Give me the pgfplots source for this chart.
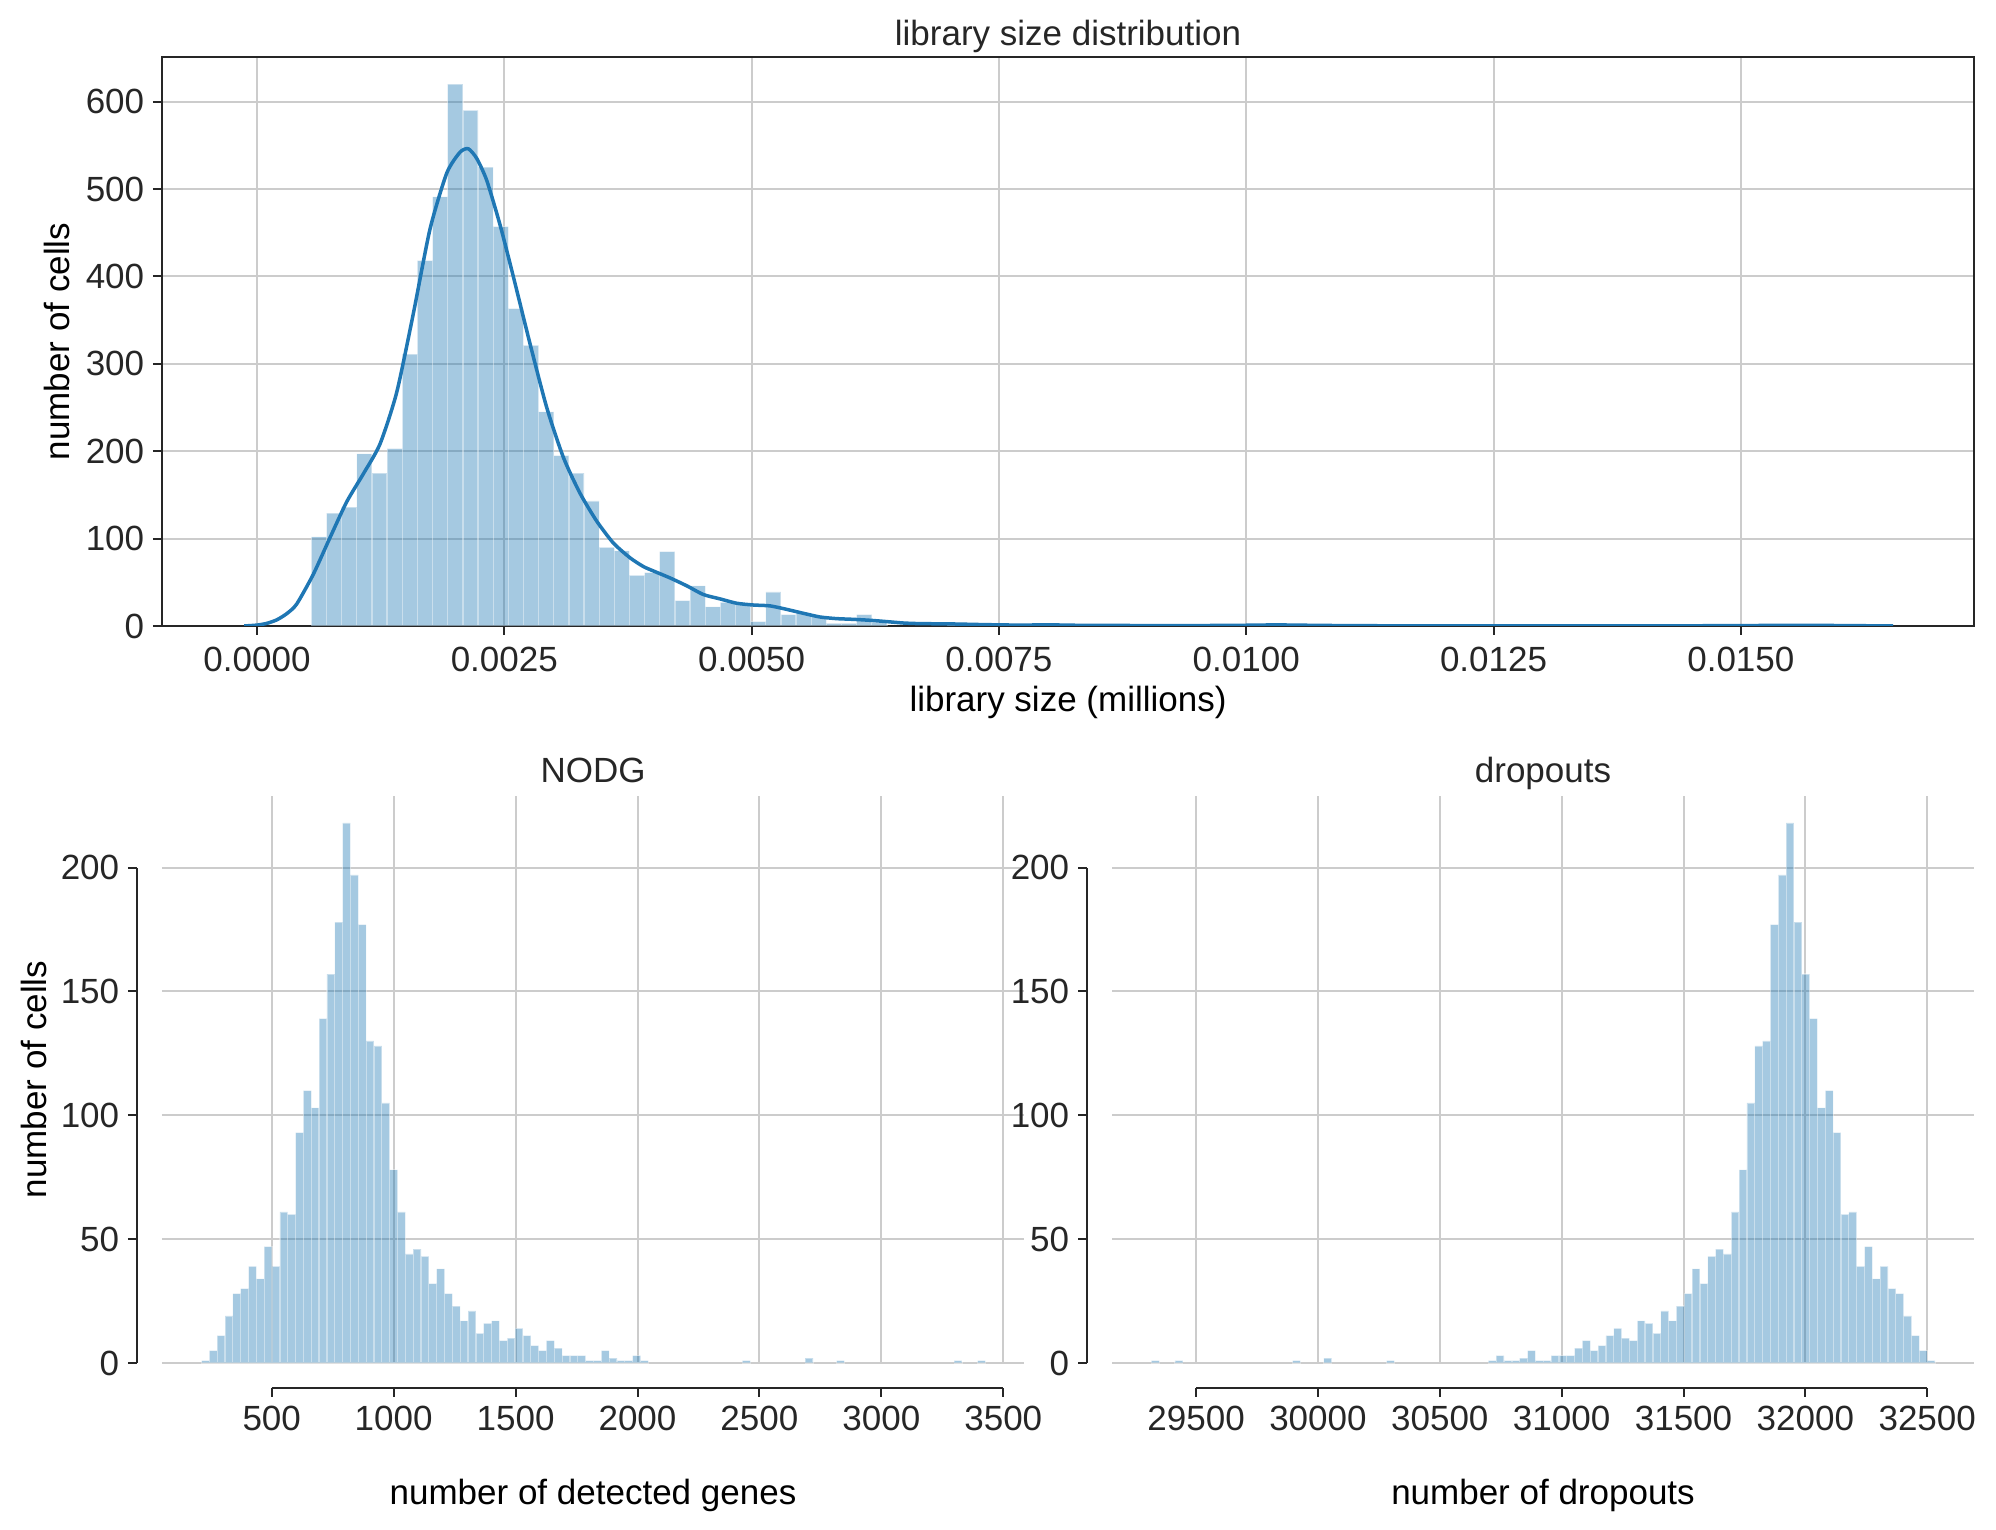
\documentclass[border=0pt]{standalone}
\usepackage{fontspec}
\setmainfont{Liberation Sans}
\usepackage{pgfplots}
\pgfplotsset{compat=1.18}

\definecolor{mplblue}{HTML}{1F77B4}
\definecolor{gridgray}{HTML}{CCCCCC}
\definecolor{ink}{HTML}{262626}

\newcommand\figfont{\fontsize{14}{16.8}\selectfont}

\pgfplotsset{
  mpl/.style={
    scale only axis,
    font=\figfont,
    tick label style={font=\figfont, text=ink},
    label style={font=\figfont, text=ink},
    title style={font=\figfont, text=ink},
    every axis title shift=0pt,
    /pgf/number format/assume math mode=true,
    grid=major,
    major grid style={gridgray, line width=0.8pt},
    tick align=outside,
    major tick length=3.6pt,
    major tick style={ink, line width=0.8pt},
    axis line style={ink, line width=0.9pt},
    scaled ticks=false,
    xtick pos=bottom, ytick pos=left,
  },
  hbar/.style={ybar, bar width=#1, fill=mplblue, fill opacity=0.4,
    draw=white, draw opacity=0.4, line width=0.5pt},
}

\begin{document}
\begin{tikzpicture}

% library size
\begin{axis}[mpl,
  at={(64.8pt,361.6pt)}, anchor=south west,
  width=724.8pt, height=227.6pt,
  xmin=-0.00096, xmax=0.017357, ymin=0, ymax=651,
  xtick={0,0.0025,0.005,0.0075,0.01,0.0125,0.015},
  ytick={0,100,...,600},
  xticklabel style={yshift=-1.2pt, /pgf/number format/.cd, fixed, fixed zerofill, precision=4},
  title={library size distribution},
  title style={at={(axis description cs:0.5,1)}, anchor=base, yshift=4.6pt},
  xlabel={library size (millions)},
  ylabel={number of cells},
  every axis x label/.style={at={([yshift=-30.6pt]axis description cs:0.5,0)}, anchor=center},
  every axis y label/.style={at={([xshift=-42pt]axis description cs:0,0.5)}, anchor=center, rotate=90},
]
\addplot[hbar=0.0001531] coordinates {
  (0.000627,102) (0.000780,129) (0.000933,136) (0.001086,197) (0.001239,175)
  (0.001393,203) (0.001546,311) (0.001699,418) (0.001852,491) (0.002005,620)
  (0.002158,590) (0.002311,525) (0.002464,457) (0.002617,363) (0.002770,321)
  (0.002924,245) (0.003077,195) (0.003230,175) (0.003383,143) (0.003536,90)
  (0.003689,86) (0.003842,58) (0.003995,61) (0.004148,85) (0.004301,29)
  (0.004455,46) (0.004608,22) (0.004761,27) (0.004914,25) (0.005067,5)
  (0.005220,39) (0.005373,13) (0.005526,15) (0.005679,11) (0.005832,3)
  (0.005986,3) (0.006139,13) (0.006292,4) (0.007057,1) (0.008129,1)
  (0.010272,1) (0.015784,1)
};
\addplot[mplblue, line width=1.4pt, smooth, tension=0.4] coordinates {
  (-0.00013,0) (0.0000,1) (0.00010,3) (0.00020,7) (0.00030,14)
  (0.000401,25) (0.000569,59) (0.000738,101) (0.000907,142) (0.001075,174)
  (0.001243,208) (0.001412,267) (0.00158,357) (0.001749,454) (0.001918,518)
  (0.002052,542) (0.002136,546) (0.002221,535) (0.002322,510) (0.002457,459)
  (0.002591,400) (0.00276,323) (0.002929,250) (0.003097,193) (0.003265,152)
  (0.003434,120) (0.003602,95) (0.003771,78) (0.003906,68) (0.004006,63)
  (0.004175,55) (0.004344,46) (0.004512,36) (0.004681,31) (0.004849,26)
  (0.005017,24) (0.005186,23) (0.005355,19) (0.005523,14.5) (0.005691,10.3)
  (0.00586,8.4) (0.006028,7.6) (0.006197,6.5) (0.006366,5) (0.006534,3.4)
  (0.006702,2.7) (0.007039,2.3) (0.007376,1.5) (0.00771,1.0) (0.0080,1.3)
  (0.0083,0.8) (0.0090,0.5) (0.0098,0.6) (0.0103,1.2) (0.0108,0.6)
  (0.0115,0.2) (0.0130,0.1) (0.0148,0.3) (0.0155,0.8) (0.0160,0.5)
  (0.01654,0)
};
\end{axis}

% NODG
\begin{axis}[mpl,
  at={(64.8pt,66.8pt)}, anchor=south west,
  width=344.8pt, height=226.8pt,
  xmin=50, xmax=3585, ymin=0, ymax=228.9,
  clip=false,
  axis x line*=bottom, axis y line*=left,
  axis x line shift=10pt, axis y line shift=10pt,
  axis line style={draw=none},
  xtick={500,1000,...,3500}, ytick={0,50,...,200},
  xticklabel style={/pgf/number format/.cd, fixed, precision=0, set thousands separator={}},
  title={NODG},
  title style={at={(axis description cs:0.5,1)}, anchor=base, yshift=5.2pt},
  xlabel={number of detected genes},
  ylabel={number of cells},
  every axis x label/.style={at={([yshift=-52.8pt]axis description cs:0.5,0)}, anchor=center},
  every axis y label/.style={at={([xshift=-51.2pt]axis description cs:0,0.5)}, anchor=center, rotate=90},
]
\addplot[hbar=32.15] coordinates {
  (228.1,1) (260.2,5) (292.4,11) (324.5,19) (356.7,28) (388.9,30) (421.0,39)
  (453.2,34) (485.3,47) (517.5,39) (549.6,61) (581.8,60) (613.9,93) (646.1,110)
  (678.2,103) (710.4,139) (742.5,157) (774.7,178) (806.8,218) (839.0,197)
  (871.1,177) (903.3,130) (935.4,128) (967.6,105) (999.7,78) (1031.9,61)
  (1064.0,44) (1096.2,46) (1128.3,43) (1160.5,32) (1192.6,38) (1224.8,28)
  (1256.9,23) (1289.1,17) (1321.2,21) (1353.4,12) (1385.5,16) (1417.7,17)
  (1449.8,9) (1482.0,10) (1514.1,14) (1546.3,11) (1578.4,7) (1610.6,5)
  (1642.7,9) (1674.9,6) (1707.0,3) (1739.2,3) (1771.3,3) (1803.5,1)
  (1835.6,1) (1867.8,5) (1899.9,2) (1932.1,1) (1964.2,1) (1996.4,3)
  (2028.5,1) (2446.5,1) (2703.7,2) (2832.3,1) (3314.5,1) (3410.9,1)
};
\draw[ink, line width=0.9pt] ([yshift=-10pt]axis cs:500,0) -- ([yshift=-10pt]axis cs:3500,0);
\draw[ink, line width=0.9pt] ([xshift=-10pt]axis cs:50,0) -- ([xshift=-10pt]axis cs:50,200);
\end{axis}

% dropouts
\begin{axis}[mpl,
  at={(444.8pt,66.8pt)}, anchor=south west,
  width=344.8pt, height=226.8pt,
  xmin=29155, xmax=32692, ymin=0, ymax=228.9,
  clip=false,
  axis x line*=bottom, axis y line*=left,
  axis x line shift=10pt, axis y line shift=10pt,
  axis line style={draw=none},
  xtick={29500,30000,...,32500}, ytick={0,50,...,200},
  xticklabel style={/pgf/number format/.cd, fixed, precision=0, set thousands separator={}},
  title={dropouts},
  title style={at={(axis description cs:0.5,1)}, anchor=base, yshift=5.2pt},
  xlabel={number of dropouts},
  every axis x label/.style={at={([yshift=-52.8pt]axis description cs:0.5,0)}, anchor=center},
]
\addplot[hbar=32.15] coordinates {
  (29333.1,1) (29429.5,1) (29911.7,1) (30040.3,2) (30297.5,1) (30715.5,1)
  (30747.6,3) (30779.8,1) (30811.9,1) (30844.1,2) (30876.2,5) (30908.4,1)
  (30940.5,1) (30972.7,3) (31004.8,3) (31037.0,3) (31069.1,6) (31101.3,9)
  (31133.4,5) (31165.6,7) (31197.7,11) (31229.9,14) (31262.0,10) (31294.2,9)
  (31326.3,17) (31358.5,16) (31390.6,12) (31422.8,21) (31454.9,17) (31487.1,23)
  (31519.2,28) (31551.4,38) (31583.5,32) (31615.7,43) (31647.8,46) (31680.0,44)
  (31712.1,61) (31744.3,78) (31776.4,105) (31808.6,128) (31840.7,130) (31872.9,177)
  (31905.0,197) (31937.2,218) (31969.3,178) (32001.5,157) (32033.6,139) (32065.8,103)
  (32097.9,110) (32130.1,93) (32162.2,60) (32194.4,61) (32226.5,39) (32258.7,47)
  (32290.8,34) (32323.0,39) (32355.1,30) (32387.3,28) (32419.5,19) (32451.6,11)
  (32483.8,5) (32515.9,1)
};
\draw[ink, line width=0.9pt] ([yshift=-10pt]axis cs:29500,0) -- ([yshift=-10pt]axis cs:32500,0);
\draw[ink, line width=0.9pt] ([xshift=-10pt]axis cs:29155,0) -- ([xshift=-10pt]axis cs:29155,200);
\end{axis}

\pgfresetboundingbox
\path[use as bounding box] (0,0) rectangle (798.4pt,612pt);
\end{tikzpicture}
\end{document}
